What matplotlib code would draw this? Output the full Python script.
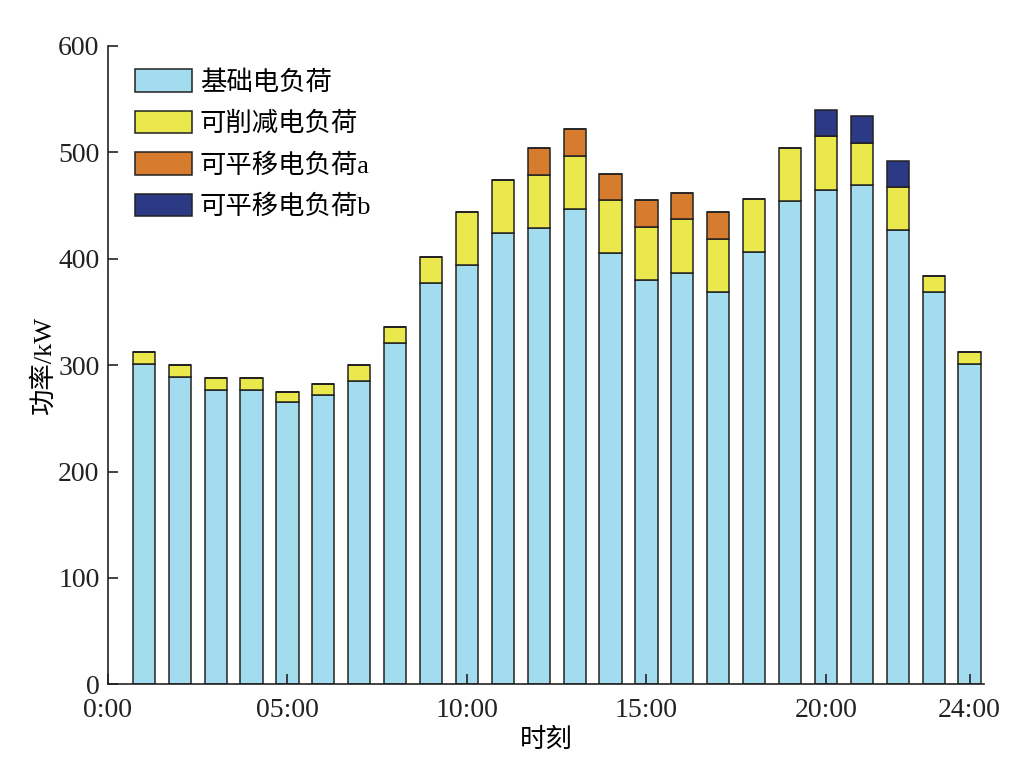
import numpy as np
import matplotlib
matplotlib.use('Agg')
import matplotlib.pyplot as plt

plt.rcParams['font.family'] = ['Liberation Serif', 'Noto Sans CJK SC', 'DejaVu Sans']
plt.rcParams['axes.unicode_minus'] = False

# data (kW), hours 1..24
hours = np.arange(1, 25)
base = [301, 289, 277, 277, 265, 272, 285, 321, 377, 394, 424, 429,
        447, 405, 380, 387, 369, 406, 454, 465, 469, 427, 369, 301]
reducible = [11, 11, 11, 11, 10, 10, 15, 15, 25, 50, 50, 50,
             50, 50, 50, 50, 50, 50, 50, 50, 40, 40, 15, 11]
shift_a = [0, 0, 0, 0, 0, 0, 0, 0, 0, 0, 0, 25,
           25, 25, 25, 25, 25, 0, 0, 0, 0, 0, 0, 0]
shift_b = [0, 0, 0, 0, 0, 0, 0, 0, 0, 0, 0, 0,
           0, 0, 0, 0, 0, 0, 0, 25, 25, 25, 0, 0]

labels = ['基础电负荷', '可削减电负荷', '可平移电负荷a', '可平移电负荷b']
colors = ['#A3DCEE', '#EBE84E', '#D77B2E', '#2C3A86']
xticks = [0, 5, 10, 15, 20, 24]
xticklabels = ['0:00', '05:00', '10:00', '15:00', '20:00', '24:00']

fig = plt.figure(figsize=(10.33, 7.74), dpi=100)
ax = fig.add_axes([0.1045, 0.1159, 0.848, 0.8247])

series = [base, reducible, shift_a, shift_b]
bottom = np.zeros(len(hours))
for vals, lab, col in zip(series, labels, colors):
    vals = np.array(vals, dtype=float)
    ax.bar(hours, vals, width=0.62, bottom=bottom, color=col,
           edgecolor='#222222', linewidth=1.1, label=lab)
    bottom += vals

ax.set_xlim(0, 24.4)
ax.set_ylim(0, 600)
ax.set_yticks(np.arange(0, 601, 100))
ax.set_xticks(xticks)
ax.set_xticklabels(xticklabels)
ax.spines['top'].set_visible(False)
ax.spines['right'].set_visible(False)
for s in ['left', 'bottom']:
    ax.spines[s].set_linewidth(1.2)
    ax.spines[s].set_color('#222222')
ax.tick_params(direction='in', length=7, width=1.2, labelsize=20, colors='#222222')
ax.tick_params(axis='x', pad=10)
ax.tick_params(axis='y', pad=6)

ax.set_xlabel('时刻', fontsize=19, labelpad=3)
ax.set_ylabel('功率/kW', fontsize=19, labelpad=2)

ax.legend(loc='upper left', bbox_to_anchor=(0.031, 0.964), frameon=False,
          fontsize=19, handlelength=2.15, handleheight=0.95,
          handletextpad=0.3, labelspacing=0.61, borderpad=0, borderaxespad=0)

fig.savefig('out.png', dpi=100)
